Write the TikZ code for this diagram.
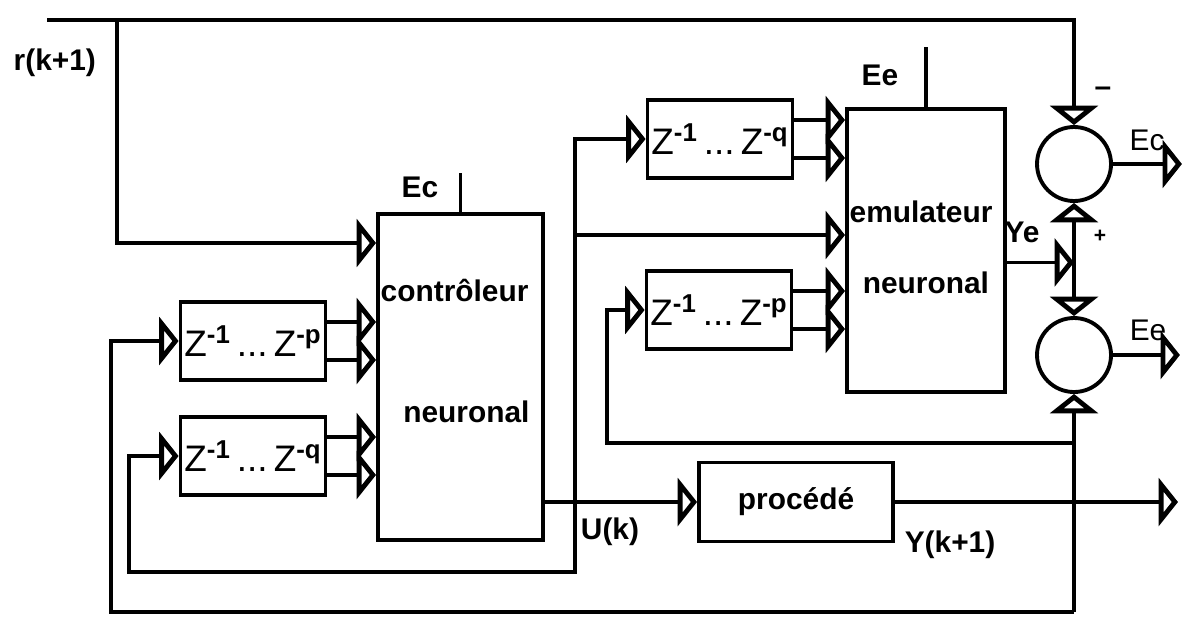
\documentclass[tikz,border=0pt]{standalone}
\usepackage{fontspec}
\setmainfont{Liberation Sans}
\usetikzlibrary{arrows.meta,calc,positioning}
\tikzset{
  every picture/.style={line width=2.2pt, line join=miter},
  every node/.style={font=\fontsize{17}{19}\selectfont\bfseries},
  % Signaux
  sig/.style={-{Triangle[open,length=11pt,width=27pt,line width=2.8pt]}},
  sig2/.style={{Triangle[open,length=11pt,width=27pt,line width=2.8pt]}-{Triangle[open,length=11pt,width=27pt,line width=2.8pt]}},
  % Blocs
  blk/.style={draw, rectangle, inner sep=0pt},
  dly/.style={blk, minimum width=29mm, minimum height=15.6mm,
    font=\fontsize{21}{22}\selectfont},
  sum/.style={draw, circle, minimum size=14.8mm, inner sep=0pt},
  % Etiquettes
  lbl/.style={inner sep=1pt},
  thinlbl/.style={inner sep=1pt, font=\fontsize{17}{18}\selectfont},
}
\newcommand{\zdel}[1]{Z\textsuperscript{\bfseries -1}\,...\,Z\textsuperscript{\bfseries -#1}}

\begin{document}
\begin{tikzpicture}[x=0.2mm,y=-0.2mm]
  \useasboundingbox (0,0) rectangle (1187,621);
  % Blocs principaux
  \node[blk, anchor=north west, minimum width=33mm, minimum height=65.2mm] (ctrl) at (376,212) {};
  \node[blk, anchor=north west, minimum width=31.6mm, minimum height=56.6mm] (emu) at (845,107) {};
  \node[blk, minimum width=38.8mm, minimum height=15.8mm] (proc) at (796,502) {procédé};
  \node[lbl, anchor=west] at ($(ctrl.north west)+(1,78)$) {contrôleur};
  \node[lbl] at ($(ctrl.north)+(6,200)$) {neuronal};
  \node[lbl, anchor=west] at ($(emu.north west)+(1,105)$) {emulateur};
  \node[lbl] at ($(emu.north)+(0,176)$) {neuronal};
  % Retards
  \node[dly] (dp1) at (253,341) {\zdel{p}};
  \node[dly] (dq1) at (253,456) {\zdel{q}};
  \node[dly] (dq2) at (720,139) {\zdel{q}};
  \node[dly] (dp2) at (719,310) {\zdel{p}};
  \foreach \d in {-19,19} {
    \draw[sig] ($(dp1.east)+(0,\d)$) -- ($(dp1.east -| ctrl.west)+(0,\d)$);
    \draw[sig] ($(dq1.east)+(0,\d)$) -- ($(dq1.east -| ctrl.west)+(0,\d)$);
    \draw[sig] ($(dq2.east)+(0,\d)$) -- ($(dq2.east -| emu.west)+(0,\d)$);
    \draw[sig] ($(dp2.east)+(0,\d)$) -- ($(dp2.east -| emu.west)+(0,\d)$);
  }
  % Sommateurs
  \node[sum] (s1) at (1074,164) {};
  \node[sum] (s2) at (1074,355) {};
  % Entrees d'erreur
  \draw (ctrl.north) -- ++(0,-39);
  \node[lbl] at (420,187) {Ec};
  \draw (emu.north) -- ++(0,-60);
  \node[lbl] at (880,75) {Ee};
  % Consigne r(k+1)
  \coordinate (r0) at (47,20);
  \coordinate (r1) at (117,20);
  \node[lbl, anchor=west] at (10,63) {r(k+1)};
  \draw[sig] (r0) -| (s1.north);
  \draw[sig] (r1) |- ($(ctrl.north west)+(0,31)$);
  \node[lbl] at (1103,92) {--};
  % Commande U(k)
  \coordinate (u) at (575,502);
  \coordinate (u2) at (575,235);
  \coordinate (u3) at (575,572);
  \draw[sig] (ctrl.east |- proc.west) -- (proc.west);
  \node[lbl] at (610,532) {U(k)};
  \draw[sig] (u) |- (dq2.west);
  \draw[sig] (u2) -- (u2 -| emu.west);
  \draw[sig] (u) -- (u3) -| ($(dq1.west)+(-50,0)$) -- (dq1.west);
  % Sortie Y(k+1)
  \coordinate (yb) at (1074,612);
  \coordinate (y2) at (1074,443);
  \draw[sig] (proc.east) -- (1178,502);
  \node[lbl] at (950,545) {Y(k+1)};
  \draw[sig] (yb) -- (s2.south);
  \draw[sig] (yb) -| ($(dp1.west)+(-68,0)$) -- (dp1.west);
  \draw[sig] (y2) -| ($(dp2.west)+(-38,0)$) -- (dp2.west);
  % Sortie emulateur Ye
  \draw[sig] ($(emu.east)+(0,12)$) -- ($(emu.east -| s1)+(0,12)$);
  \node[lbl] at (1022,232) {Ye};
  \draw[sig2] (s1.south) -- (s2.north);
  \node[lbl, font=\fontsize{12}{12}\selectfont\bfseries] at (1100,236) {+};
  % Erreurs Ec, Ee
  \draw[sig] (s1.east) -- ++(69,0);
  \node[thinlbl] at (1147,140) {Ec};
  \draw[sig] (s2.east) -- ++(67,0);
  \node[thinlbl] at (1148,330) {Ee};
\end{tikzpicture}
\end{document}
